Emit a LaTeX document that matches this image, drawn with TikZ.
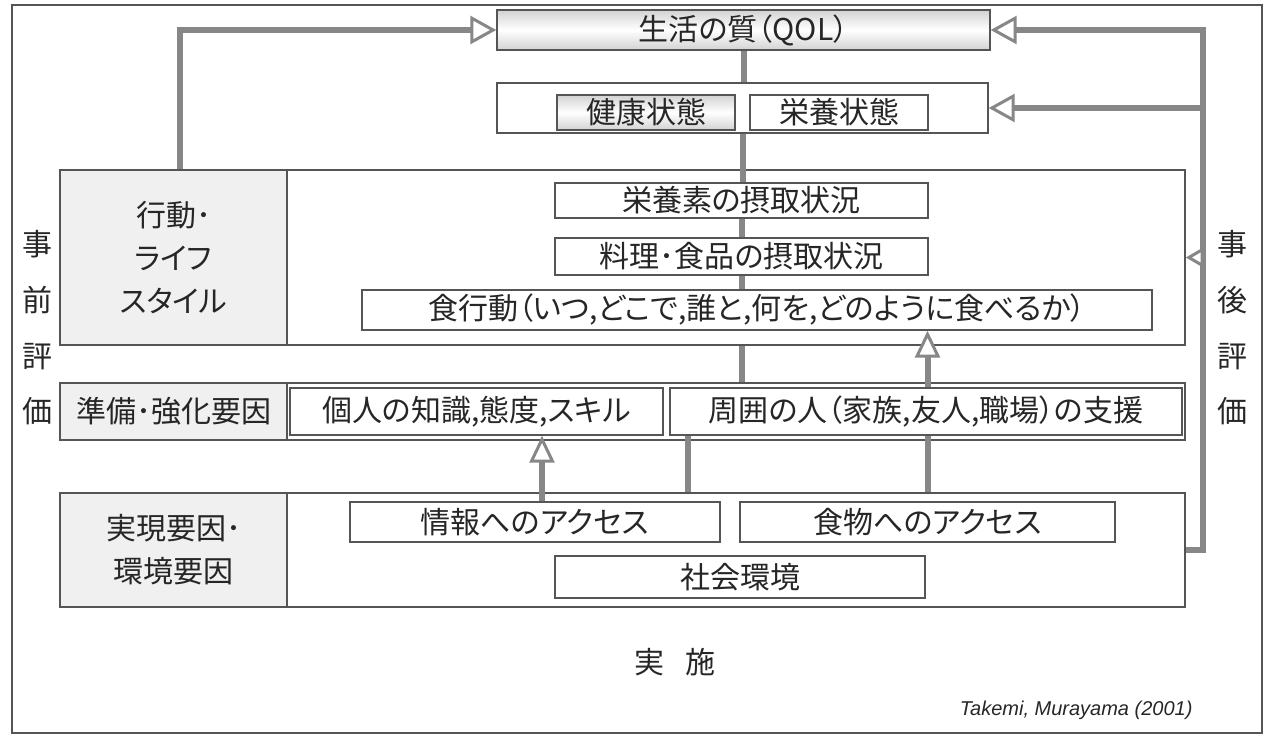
\documentclass[tikz,border=0pt]{standalone}
\usepackage{fontspec}
\newfontfamily\jp[RawFeature=+palt]{Noto Sans CJK JP}
\newfontfamily\lat{Liberation Sans}
\usetikzlibrary{arrows.meta}
\definecolor{conncol}{RGB}{135,135,135}
\definecolor{edgecol}{RGB}{85,85,85}
\definecolor{panelcol}{RGB}{240,240,240}
\begin{document}
\begin{tikzpicture}[x=1pt,y=-1pt,
  every node/.style={font=\jp\fontsize{30}{43}\selectfont, text=black!85},
  box/.style={draw=edgecol, line width=1.4pt, fill=white, inner sep=0pt, align=center},
  lab/.style={box, fill=panelcol},
  grad/.style={box, top color=gray!35, bottom color=gray!35, middle color=white},
  conn/.style={draw=conncol, line width=6pt},
  arr/.style={conn, -{Triangle[fill=white, length=26pt, width=28pt, line width=3pt]}},
  uarr/.style={conn, -{Triangle[fill=white, length=27pt, width=25pt, line width=3pt]}},
  sarr/.style={conn, -{Triangle[fill=white, length=18pt, width=20pt, line width=3pt]}},
]
\useasboundingbox (0,0) rectangle (1276,736);
\node[draw=edgecol, line width=1.5pt, minimum width=1250pt, minimum height=728pt, inner sep=0pt] (frame) at (637,369) {};

% top
\node[grad, minimum width=493pt, minimum height=40pt] (qol) at (743.5,30) {生活の質（QOL）};
\node[box, minimum width=491pt, minimum height=50pt] (hs) at (742.5,108) {};
\node[grad, minimum width=178pt, minimum height=35pt] (kenko) at (646,112.5) {健康状態};
\node[box, minimum width=178pt, minimum height=35pt] (eiyo) at (839,112.5) {栄養状態};

% row 1
\node[lab, minimum width=227pt, minimum height=175pt] (row1L) at (173.5,257.5) {行動･\\ライフ\\スタイル};
\node[box, minimum width=898pt, minimum height=175pt] (row1R) at (736,257.5) {};
\node[box, minimum width=373pt, minimum height=35pt] (n1) at (741.5,200.5) {栄養素の摂取状況};
\node[box, minimum width=373pt, minimum height=37pt] (n2) at (741.5,256.5) {料理･食品の摂取状況};
\node[box, minimum width=790pt, minimum height=40pt] (n3) at (757,310) {食行動（いつ,どこで,誰と,何を,どのように食べるか）};

% row 2
\node[lab, minimum width=227pt, minimum height=57pt] (row2L) at (173.5,411.5) {準備･強化要因};
\node[box, minimum width=898pt, minimum height=57pt] (row2R) at (736,411.5) {};
\node[box, minimum width=373pt, minimum height=47pt] (k1) at (476.5,411.5) {個人の知識,態度,スキル};
\node[box, minimum width=512pt, minimum height=47pt] (k2) at (926,411.5) {周囲の人（家族,友人,職場）の支援};

% row 3
\node[lab, minimum width=227pt, minimum height=114pt] (row3L) at (173.5,550) {実現要因･\\環境要因};
\node[box, minimum width=898pt, minimum height=114pt] (row3R) at (736,550) {};
\node[box, minimum width=370pt, minimum height=40pt] (a1) at (535,522) {情報へのアクセス};
\node[box, minimum width=375pt, minimum height=40pt] (a2) at (927.5,522) {食物へのアクセス};
\node[box, minimum width=370pt, minimum height=42pt] (a3) at (740,577) {社会環境};

% side labels
\node[font=\jp\fontsize{30}{55.7}\selectfont, align=center] (pre) at (38,328) {事\\前\\評\\価};
\node[font=\jp\fontsize{30}{55.7}\selectfont, align=center] (post) at (1232,328) {事\\後\\評\\価};
\node (impl) at (675,662) {実\hspace{0.7em}施};
\node[font=\lat\itshape\fontsize{20}{24}\selectfont, anchor=east] (src) at (1196,710) {Takemi, Murayama (2001)};

% coordinates
\coordinate (fb) at (1203,30);
\coordinate (fl) at (180,30);
\coordinate (ax) at (542,0);
\coordinate (bx) at (688,0);

% connectors
\draw[conn] (qol.south) -- (qol.south |- hs.north);
\draw[conn] (hs.south) -- (hs.south |- n1.north);
\draw[conn] (n1.south) -- (n1.south |- n2.north);
\draw[conn] (n2.south) -- (n2.south |- n3.north);
\draw[conn] (row1R.south -| n1.south) -- (row2R.north -| n1.south);
\draw[uarr] (k2.north -| a2.north) -- (n3.south -| a2.north);
\draw[uarr] (a1.north -| ax) -- (k1.south -| ax);
\draw[conn] (k2.south -| bx) -- (row3R.north -| bx);
\draw[conn] (k2.south -| a2.north) -- (row3R.north -| a2.north);

% feedback
\draw[arr] (row1L.north -| fl) |- (qol.west);
\draw[arr] (row3R.east) -| (fb) -- (qol.east);
\draw[arr] (fb |- hs.east) -- (hs.east);
\draw[sarr] (fb |- row1R.east) -- (row1R.east);
\end{tikzpicture}
\end{document}
